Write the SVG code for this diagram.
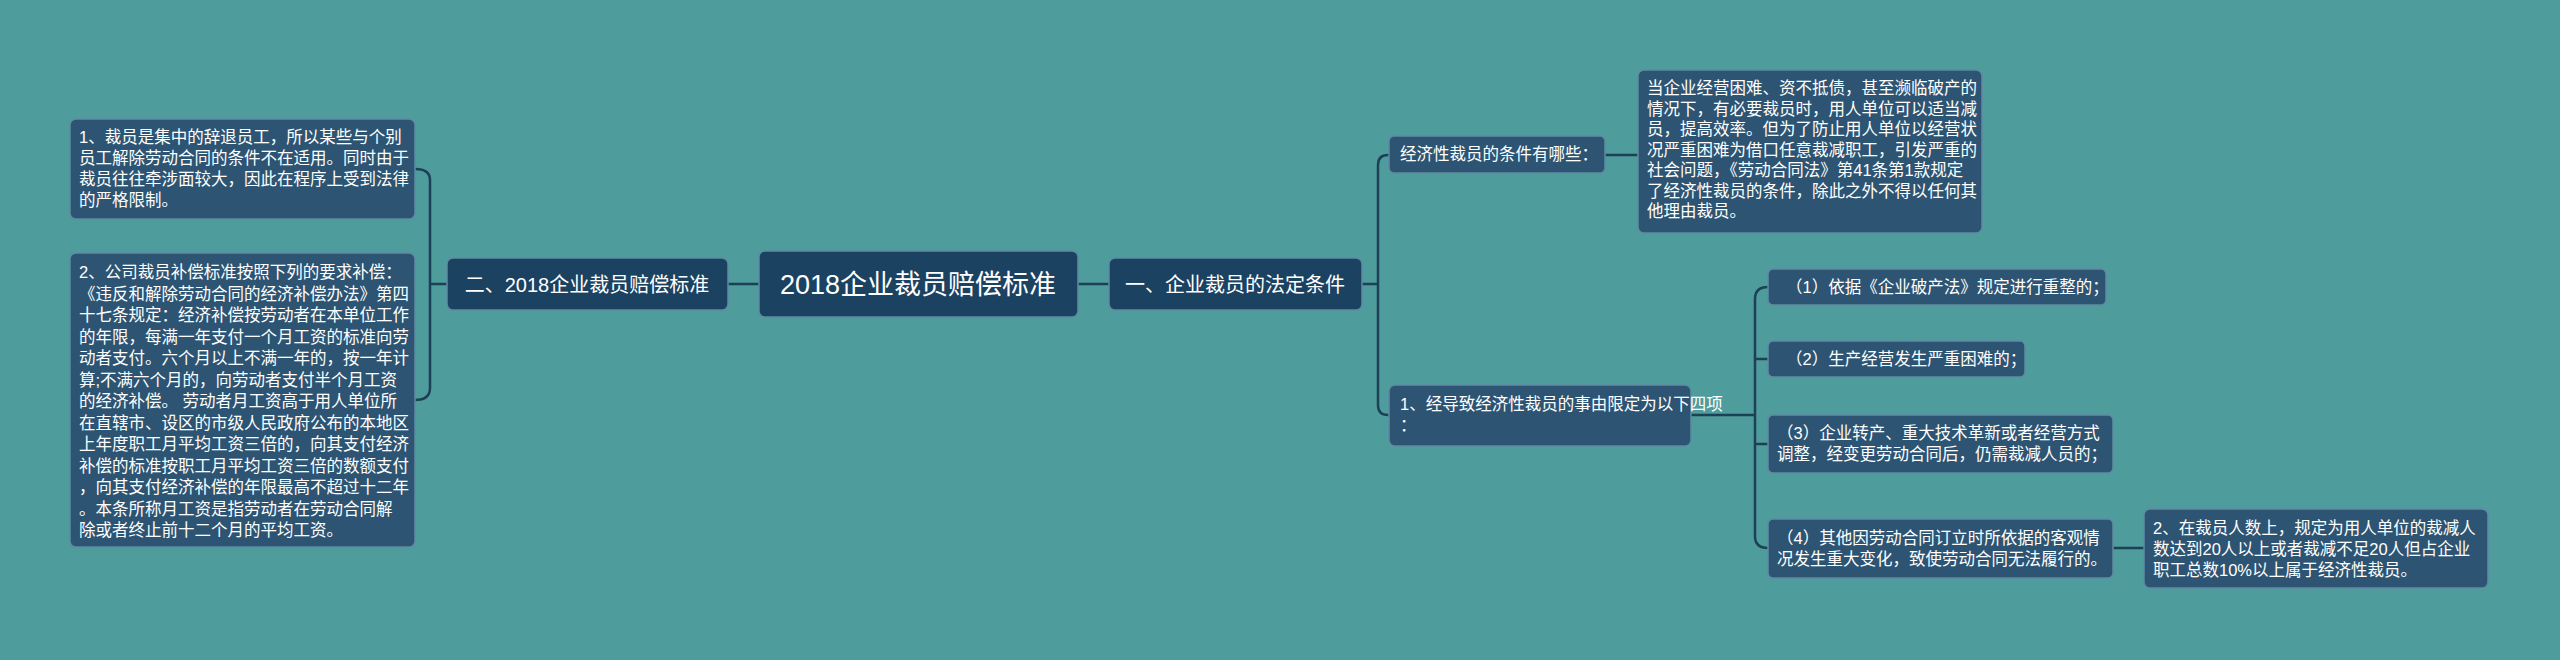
<svg xmlns="http://www.w3.org/2000/svg" width="2560" height="660" viewBox="0 0 2560 660">
<style>
.bg{fill:#4e9c9c}
.n{fill:#2d5573;stroke:#5f8aa3;stroke-width:1.5}
.h{fill:#1c4262;stroke:#5f8aa3;stroke-width:1.5}
text{font-family:"Liberation Sans","Noto Sans CJK SC",sans-serif;fill:#ffffff}
.t{font-size:16.5px}
.m{font-size:20px}
.c{font-size:27px}
.e{fill:none;stroke:#1d4057;stroke-width:2.5}
</style>
<rect class="bg" width="2560" height="660"/>
<g id="connectors">
<path class="e" d="M1078 284H1109"/>
<path class="e" d="M759 284H728"/>
<path class="e" d="M1362 284H1378M1389 155H1388Q1378 155 1378 165V405Q1378 415 1388 415H1389"/>
<path class="e" d="M447 284H430M415 169Q430 169 430 180V388Q430 400 415 400"/>
<path class="e" d="M1605 155H1638"/>
<path class="e" d="M1691 415H1755M1768 287Q1755 287 1755 299V536Q1755 548 1768 548M1755 359Q1755 359 1768 359M1755 444Q1755 444 1768 444"/>
<path class="e" d="M2113 548H2144"/>
</g>
<g id="center"><rect class="h" x="759" y="251" width="319" height="66" rx="6"/><text class="c" x="918" y="294" text-anchor="middle">2018企业裁员赔偿标准</text></g>
<g id="l1"><rect class="h" x="447" y="258" width="281" height="52" rx="6"/><text class="m" x="587" y="292" text-anchor="middle">二、2018企业裁员赔偿标准</text></g>
<g id="la"><rect class="n" x="70" y="119" width="345" height="100" rx="6"/>
<text class="t" x="79" y="143"><tspan x="79">1、裁员是集中的辞退员工，所以某些与个别</tspan><tspan x="79" dy="21">员工解除劳动合同的条件不在适用。同时由于</tspan><tspan x="79" dy="21">裁员往往牵涉面较大，因此在程序上受到法律</tspan><tspan x="79" dy="21">的严格限制。</tspan></text></g>
<g id="lb"><rect class="n" x="70" y="253" width="345" height="294" rx="6"/>
<text class="t" x="79" y="278"><tspan x="79">2、公司裁员补偿标准按照下列的要求补偿：</tspan><tspan x="79" dy="21.5">《违反和解除劳动合同的经济补偿办法》第四</tspan><tspan x="79" dy="21.5">十七条规定：经济补偿按劳动者在本单位工作</tspan><tspan x="79" dy="21.5">的年限，每满一年支付一个月工资的标准向劳</tspan><tspan x="79" dy="21.5">动者支付。六个月以上不满一年的，按一年计</tspan><tspan x="79" dy="21.5">算;不满六个月的，向劳动者支付半个月工资</tspan><tspan x="79" dy="21.5">的经济补偿。 劳动者月工资高于用人单位所</tspan><tspan x="79" dy="21.5">在直辖市、设区的市级人民政府公布的本地区</tspan><tspan x="79" dy="21.5">上年度职工月平均工资三倍的，向其支付经济</tspan><tspan x="79" dy="21.5">补偿的标准按职工月平均工资三倍的数额支付</tspan><tspan x="79" dy="21.5">，向其支付经济补偿的年限最高不超过十二年</tspan><tspan x="79" dy="21.5">。本条所称月工资是指劳动者在劳动合同解</tspan><tspan x="79" dy="21.5">除或者终止前十二个月的平均工资。</tspan></text></g>
<g id="r1"><rect class="h" x="1109" y="258" width="253" height="52" rx="6"/><text class="m" x="1235" y="292" text-anchor="middle">一、企业裁员的法定条件</text></g>
<g id="r2a"><rect class="n" x="1389" y="136" width="216" height="37" rx="5"/><text class="t" x="1400" y="160">经济性裁员的条件有哪些：</text></g>
<g id="ra"><rect class="n" x="1638" y="70" width="344" height="163" rx="6"/>
<text class="t" x="1647" y="94"><tspan x="1647">当企业经营困难、资不抵债，甚至濒临破产的</tspan><tspan x="1647" dy="20.5">情况下，有必要裁员时，用人单位可以适当减</tspan><tspan x="1647" dy="20.5">员，提高效率。但为了防止用人单位以经营状</tspan><tspan x="1647" dy="20.5">况严重困难为借口任意裁减职工，引发严重的</tspan><tspan x="1647" dy="20.5">社会问题，《劳动合同法》第41条第1款规定</tspan><tspan x="1647" dy="20.5">了经济性裁员的条件，除此之外不得以任何其</tspan><tspan x="1647" dy="20.5">他理由裁员。</tspan></text></g>
<g id="r2b"><rect class="n" x="1389" y="385" width="302" height="61" rx="6"/>
<text class="t" x="1400" y="410"><tspan x="1400">1、经导致经济性裁员的事由限定为以下四项</tspan><tspan x="1400" dy="21">：</tspan></text></g>
<g id="i1"><rect class="n" x="1768" y="269" width="338" height="36" rx="5"/><text class="t" x="1786" y="293">（1）依据《企业破产法》规定进行重整的；</text></g>
<g id="i2"><rect class="n" x="1768" y="341" width="257" height="36" rx="5"/><text class="t" x="1786" y="365">（2）生产经营发生严重困难的；</text></g>
<g id="i3"><rect class="n" x="1768" y="415" width="345" height="58" rx="5"/><text class="t" x="1777" y="439"><tspan x="1777">（3）企业转产、重大技术革新或者经营方式</tspan><tspan x="1777" dy="21">调整，经变更劳动合同后，仍需裁减人员的；</tspan></text></g>
<g id="i4"><rect class="n" x="1768" y="519" width="345" height="59" rx="5"/><text class="t" x="1777" y="544"><tspan x="1777">（4）其他因劳动合同订立时所依据的客观情</tspan><tspan x="1777" dy="21">况发生重大变化，致使劳动合同无法履行的。</tspan></text></g>
<g id="rb"><rect class="n" x="2144" y="509" width="344" height="79" rx="6"/><text class="t" x="2153" y="534"><tspan x="2153">2、在裁员人数上，规定为用人单位的裁减人</tspan><tspan x="2153" dy="21">数达到20人以上或者裁减不足20人但占企业</tspan><tspan x="2153" dy="21">职工总数10%以上属于经济性裁员。</tspan></text></g>
</svg>
